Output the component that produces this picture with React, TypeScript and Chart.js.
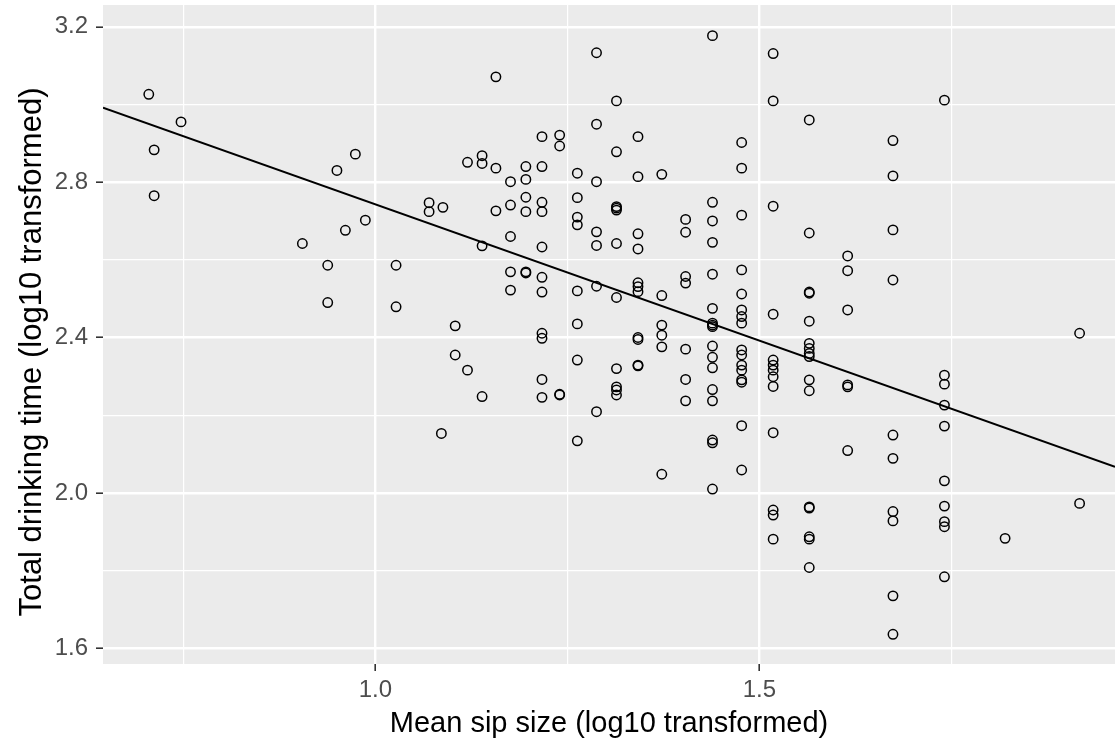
import React, { useEffect, useRef } from 'react';
import { Chart, registerables } from 'chart.js';

Chart.register(...registerables);

// Mean sip size (log10) for each observation
const sipSize: number[] = [
  0.705, 0.712, 0.712, 0.747, 0.905, 0.938, 0.938, 0.950, 0.961, 0.974, 0.987,
  1.027, 1.027, 1.070, 1.070, 1.088, 1.086, 1.104, 1.104, 1.120, 1.120,
  1.139, 1.139, 1.139, 1.139, 1.157, 1.157, 1.157,
  1.176, 1.176, 1.176, 1.176, 1.176,
  1.196, 1.196, 1.196, 1.196, 1.196, 1.196,
  1.217, 1.217, 1.217, 1.217, 1.217, 1.217, 1.217, 1.217, 1.217, 1.217, 1.217,
  1.240, 1.240, 1.240, 1.240,
  1.263, 1.263, 1.263, 1.263, 1.263, 1.263, 1.263, 1.263,
  1.288, 1.288, 1.288, 1.288, 1.288, 1.288, 1.288,
  1.314, 1.314, 1.314, 1.314, 1.314, 1.314, 1.314, 1.314, 1.314, 1.314, 1.314,
  1.342, 1.342, 1.342, 1.342, 1.342, 1.342, 1.342, 1.342, 1.342, 1.342, 1.342,
  1.373, 1.373, 1.373, 1.373, 1.373, 1.373,
  1.404, 1.404, 1.404, 1.404, 1.404, 1.404, 1.404,
  1.439, 1.439, 1.439, 1.439, 1.439, 1.439, 1.439, 1.439, 1.439, 1.439, 1.439, 1.439, 1.439, 1.439, 1.439, 1.439, 1.439,
  1.477, 1.477, 1.477, 1.477, 1.477, 1.477, 1.477, 1.477, 1.477, 1.477, 1.477, 1.477, 1.477, 1.477, 1.477, 1.477,
  1.518, 1.518, 1.518, 1.518, 1.518, 1.518, 1.518, 1.518, 1.518, 1.518, 1.518, 1.518, 1.518,
  1.565, 1.565, 1.565, 1.565, 1.565, 1.565, 1.565, 1.565, 1.565, 1.565, 1.565, 1.565, 1.565, 1.565, 1.565, 1.565,
  1.615, 1.615, 1.615, 1.615, 1.615, 1.615,
  1.674, 1.674, 1.674, 1.674, 1.674, 1.674, 1.674, 1.674, 1.674, 1.674,
  1.741, 1.741, 1.741, 1.741, 1.741, 1.741, 1.741, 1.741, 1.741, 1.741,
  1.820, 1.917, 1.917,
];

// Total drinking time (log10) for each observation
const drinkTime: number[] = [
  3.026, 2.883, 2.765, 2.955, 2.642, 2.586, 2.490, 2.830, 2.676, 2.872, 2.702,
  2.586, 2.479, 2.747, 2.724, 2.735, 2.153, 2.430, 2.355, 2.851, 2.316,
  2.868, 2.848, 2.636, 2.248, 3.071, 2.836, 2.726,
  2.801, 2.741, 2.660, 2.569, 2.522,
  2.840, 2.807, 2.761, 2.724, 2.569, 2.566,
  2.917, 2.840, 2.748, 2.724, 2.633, 2.555, 2.517, 2.411, 2.398, 2.292, 2.246,
  2.921, 2.893, 2.254, 2.252,
  2.823, 2.760, 2.710, 2.690, 2.520, 2.435, 2.342, 2.134,
  3.133, 2.949, 2.801, 2.672, 2.637, 2.532, 2.209,
  3.009, 2.878, 2.737, 2.728, 2.733, 2.642, 2.503, 2.320, 2.273, 2.265, 2.252,
  2.917, 2.814, 2.667, 2.628, 2.541, 2.531, 2.518, 2.400, 2.395, 2.329, 2.327,
  2.820, 2.508, 2.432, 2.406, 2.376, 2.048,
  2.704, 2.671, 2.557, 2.540, 2.370, 2.292, 2.237,
  3.177, 2.748, 2.700, 2.645, 2.563, 2.475, 2.437, 2.432, 2.428, 2.378, 2.349, 2.322, 2.266, 2.237, 2.136, 2.129, 2.010,
  2.902, 2.836, 2.715, 2.574, 2.512, 2.471, 2.454, 2.437, 2.368, 2.355, 2.329, 2.316, 2.291, 2.285, 2.173, 2.059,
  3.131, 3.009, 2.738, 2.460, 2.342, 2.329, 2.316, 2.299, 2.274, 2.155, 1.956, 1.943, 1.881,
  2.960, 2.669, 2.517, 2.514, 2.442, 2.385, 2.372, 2.359, 2.351, 2.291, 2.263, 1.964, 1.961, 1.887, 1.881, 1.808,
  2.610, 2.572, 2.471, 2.278, 2.273, 2.109,
  2.907, 2.816, 2.677, 2.548, 2.149, 2.089, 1.952, 1.928, 1.735, 1.636,
  3.011, 2.303, 2.280, 2.226, 2.172, 2.031, 1.966, 1.926, 1.913, 1.784,
  1.883, 2.411, 1.973,
];

// Fitted regression line
const fitIntercept = 3.4445;
const fitSlope = -0.7015;

// Axis limits and ticks
const xLimits = [0.6454, 1.9631];
const yLimits = [1.5596, 3.2559];
const xTickValues = [0.75, 1.0, 1.25, 1.5, 1.75];
const xTickLabels = ['', '1.0', '', '1.5', ''];
const yTickValues = [1.6, 1.8, 2.0, 2.2, 2.4, 2.6, 2.8, 3.0, 3.2];
const yTickLabels = ['1.6', '', '2.0', '', '2.4', '', '2.8', '', '3.2'];

const xTitle = 'Mean sip size (log10 transformed)';
const yTitle = 'Total drinking time (log10 transformed)';

const FONT = "'Liberation Sans', Arial, Helvetica, sans-serif";

const panelBg = {
  id: 'panelBg',
  beforeDraw(chart: any) {
    const { ctx, chartArea: a } = chart;
    ctx.save();
    ctx.fillStyle = '#EBEBEB';
    ctx.fillRect(a.left, a.top, a.right - a.left, a.bottom - a.top);
    ctx.restore();
  },
};

// y-axis title drawn manually (rotated), placed as in the reference
const yTitlePlugin = {
  id: 'yTitlePlugin',
  afterDraw(chart: any) {
    const { ctx } = chart;
    ctx.save();
    ctx.translate(32, 352);
    ctx.rotate(-Math.PI / 2);
    ctx.textAlign = 'center';
    ctx.textBaseline = 'middle';
    ctx.fillStyle = '#000000';
    ctx.font = `31px ${FONT}`;
    ctx.fillText(yTitle, 0, 0);
    ctx.restore();
  },
};

export default function App() {
  const ref = useRef<HTMLCanvasElement | null>(null);

  useEffect(() => {
    if (!ref.current) return;
    const points = sipSize.map((x, i) => ({ x, y: drinkTime[i] }));
    const line = [
      { x: xLimits[0], y: fitIntercept + fitSlope * xLimits[0] },
      { x: xLimits[1], y: fitIntercept + fitSlope * xLimits[1] },
    ];
    const gridFor = (labels: string[]) => ({
      color: '#FFFFFF',
      lineWidth: (c: any) => (labels[c.index] ? 2.4 : 1.2),
      drawTicks: true,
      tickLength: 7,
      tickWidth: 1.6,
      tickColor: (c: any) => (labels[c.index] ? '#333333' : 'rgba(0,0,0,0)'),
    });

    const chart = new Chart(ref.current, {
      type: 'scatter',
      data: {
        datasets: [
          {
            type: 'line',
            data: line,
            borderColor: '#000000',
            borderWidth: 2,
            pointRadius: 0,
            fill: false,
            order: 0,
          } as any,
          {
            type: 'scatter',
            data: points,
            pointStyle: 'circle',
            pointRadius: 4.7,
            pointHoverRadius: 4.7,
            borderWidth: 1.5,
            borderColor: '#000000',
            backgroundColor: 'rgba(0,0,0,0)',
            order: 1,
          } as any,
        ],
      },
      plugins: [panelBg, yTitlePlugin],
      options: {
        animation: false,
        responsive: false,
        maintainAspectRatio: false,
        devicePixelRatio: 1,
        events: [],
        layout: { autoPadding: false, padding: { top: 5, right: 0, bottom: 0, left: 0 } },
        plugins: { legend: { display: false }, tooltip: { enabled: false } },
        scales: {
          x: {
            type: 'linear',
            min: xLimits[0],
            max: xLimits[1],
            afterBuildTicks: (s: any) => {
              s.ticks = xTickValues.map((v) => ({ value: v }));
            },
            afterFit: (s: any) => {
              s.height = 78;
              s.paddingLeft = 0;
              s.paddingRight = 0;
            },
            ticks: {
              autoSkip: false,
              maxRotation: 0,
              minRotation: 0,
              padding: 5,
              color: '#4D4D4D',
              font: { family: FONT, size: 24 },
              callback: (_v: any, i: number) => xTickLabels[i],
            },
            grid: gridFor(xTickLabels) as any,
            border: { display: false },
            title: {
              display: true,
              text: xTitle,
              color: '#000000',
              font: { family: FONT, size: 29 },
              padding: { top: 0, bottom: 1 },
            },
          },
          y: {
            type: 'linear',
            min: yLimits[0],
            max: yLimits[1],
            afterBuildTicks: (s: any) => {
              s.ticks = yTickValues.map((v) => ({ value: v }));
            },
            afterFit: (s: any) => {
              s.width = 103;
              s.paddingTop = 0;
              s.paddingBottom = 0;
            },
            ticks: {
              autoSkip: false,
              padding: 8,
              color: '#4D4D4D',
              font: { family: FONT, size: 24 },
              callback: (_v: any, i: number) => yTickLabels[i],
            },
            grid: gridFor(yTickLabels) as any,
            border: { display: false },
            title: { display: false },
          },
        },
      } as any,
    });
    return () => chart.destroy();
  }, []);

  return (
    <div style={{ position: 'fixed', left: 0, top: 0, width: 1115, height: 742, background: '#FFFFFF' }}>
      <canvas ref={ref} width={1115} height={742} style={{ display: 'block', width: 1115, height: 742 }} />
    </div>
  );
}
